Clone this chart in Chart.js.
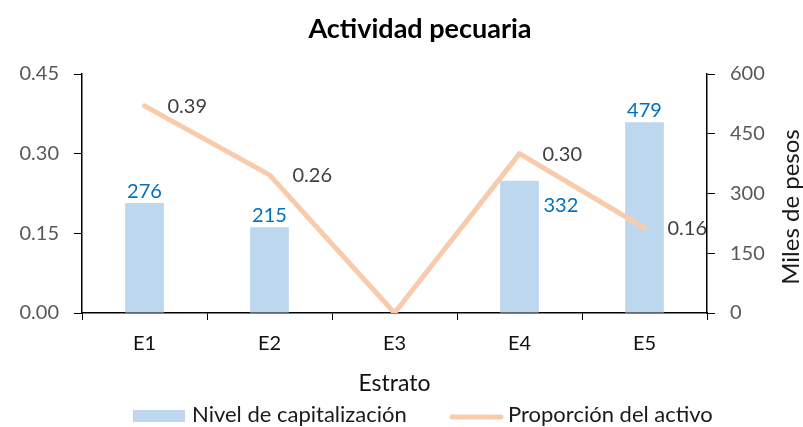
<!DOCTYPE html>
<html>
<head>
<meta charset="utf-8">
<script src="https://cdn.jsdelivr.net/npm/chart.js@4/dist/chart.umd.min.js"></script>
<style>
  html, body { margin: 0; padding: 0; background: #fff; }
</style>
</head>
<body>
<canvas id="chart" width="803" height="427"></canvas>
<script>
const categories = ['E1', 'E2', 'E3', 'E4', 'E5'];
const capitalizacion = [276, 215, 0, 332, 479];
const proporcion = [0.39, 0.26, 0, 0.30, 0.16];
const leftTicks = [0, 0.15, 0.30, 0.45];
const rightTicks = [0, 150, 300, 450, 600];

const FONT = 'Lato';
const barColor = '#BDD7EE';
const lineColor = '#F8CBAD';

// value labels, title, legend and right axis title drawn on top of the chart
const labelPlugin = {
  id: 'valueLabels',
  afterDatasetsDraw(chart) {
    const ctx = chart.ctx;
    ctx.save();
    ctx.font = `20px ${FONT}`;
    ctx.textBaseline = 'middle';

    chart.getDatasetMeta(1).data.forEach((bar, i) => {
      const v = capitalizacion[i];
      if (!v) return;
      ctx.fillStyle = '#0070C0';
      if (i === 3) {
        ctx.textAlign = 'left';
        ctx.fillText(v, bar.x + 24, bar.y + 25);
      } else {
        ctx.textAlign = 'center';
        ctx.fillText(v, bar.x, bar.y - 12);
      }
    });

    chart.getDatasetMeta(0).data.forEach((pt, i) => {
      const v = proporcion[i];
      if (!v) return;
      ctx.fillStyle = '#404040';
      ctx.textAlign = 'left';
      ctx.fillText(v.toFixed(2), pt.x + 23, pt.y + 1);
    });
    ctx.restore();
  },
  afterDraw(chart) {
    const ctx = chart.ctx;
    ctx.save();
    ctx.textBaseline = 'middle';

    ctx.font = `bold 27px ${FONT}`;
    ctx.textAlign = 'center';
    ctx.fillStyle = '#000';
    ctx.fillText('Actividad pecuaria', 420, 29);

    ctx.font = `22px ${FONT}`;
    ctx.textAlign = 'left';
    const y = 416;
    ctx.fillStyle = barColor;
    ctx.fillRect(133, y - 6, 52, 12);
    ctx.fillStyle = '#1a1a1a';
    ctx.fillText('Nivel de capitalización', 192, y - 1);
    ctx.strokeStyle = lineColor;
    ctx.lineWidth = 5;
    ctx.lineCap = 'round';
    ctx.beginPath();
    ctx.moveTo(452, y + 1);
    ctx.lineTo(501, y + 1);
    ctx.stroke();
    ctx.fillText('Proporción del activo', 508, y - 1);

    // right axis title, reading bottom to top
    ctx.translate(791, 207);
    ctx.rotate(-Math.PI / 2);
    ctx.textAlign = 'center';
    ctx.font = `24px ${FONT}`;
    ctx.fillText('Miles de pesos', 0, 0);
    ctx.restore();
  }
};

new Chart(document.getElementById('chart'), {
  data: {
    labels: categories,
    datasets: [
      {
        type: 'line',
        label: 'Proporción del activo',
        data: proporcion,
        yAxisID: 'y',
        borderColor: lineColor,
        backgroundColor: lineColor,
        borderWidth: 5,
        borderCapStyle: 'round',
        borderJoinStyle: 'round',
        pointRadius: 0,
        tension: 0
      },
      {
        type: 'bar',
        label: 'Nivel de capitalización',
        data: capitalizacion,
        yAxisID: 'y1',
        backgroundColor: barColor,
        barPercentage: 0.31,
        categoryPercentage: 1
      }
    ]
  },
  options: {
    responsive: false,
    animation: false,
    layout: { padding: { left: 0, right: 0, top: 74, bottom: 30 } },
    plugins: {
      legend: { display: false },
      tooltip: { enabled: false },
      title: { display: false }
    },
    scales: {
      x: {
        offset: true,
        grid: { offset: true, drawOnChartArea: false, color: '#000', tickLength: 7, tickColor: '#000' },
        border: { color: '#000', width: 1.5 },
        ticks: { color: '#111', font: { family: FONT, size: 20 }, padding: 12 },
        title: { display: true, text: 'Estrato', color: '#111', font: { family: FONT, size: 23, lineHeight: 1.2 }, padding: { top: 4, bottom: 0 } },
        afterFit: s => { s.height = 84; }
      },
      y: {
        position: 'left',
        min: 0,
        max: 0.45,
        afterBuildTicks: s => { s.ticks = leftTicks.map(v => ({ value: v })); },
        grid: { drawOnChartArea: false, tickLength: 8, tickColor: '#000' },
        border: { color: '#000', width: 1.5 },
        ticks: { color: '#595959', font: { family: FONT, size: 20 }, padding: 15, callback: v => v.toFixed(2) },
        afterFit: s => { s.width = 82; }
      },
      y1: {
        position: 'right',
        min: 0,
        max: 600,
        afterBuildTicks: s => { s.ticks = rightTicks.map(v => ({ value: v })); },
        grid: { drawOnChartArea: false, tickLength: 8, tickColor: '#000' },
        border: { color: '#000', width: 1.5 },
        ticks: { color: '#595959', font: { family: FONT, size: 20 }, padding: 15 },
        afterFit: s => { s.width = 96; }
      }
    }
  },
  plugins: [labelPlugin]
});
</script>
</body>
</html>
